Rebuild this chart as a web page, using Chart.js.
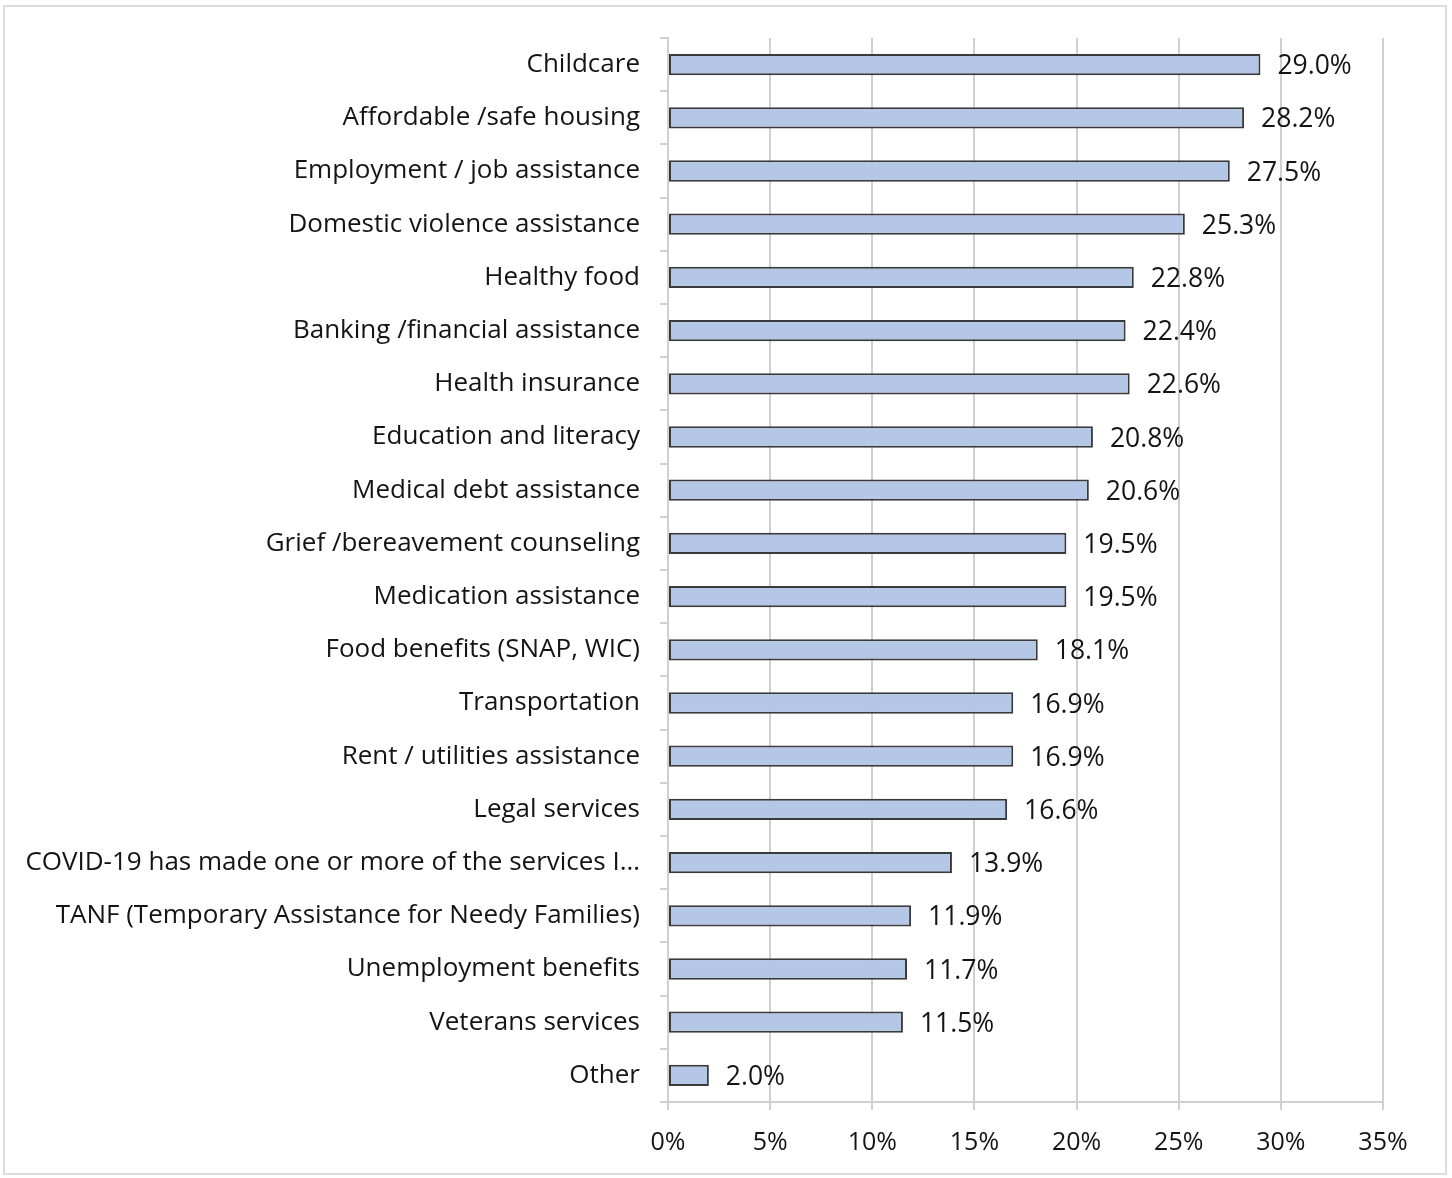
<!DOCTYPE html>
<html>
<head>
<meta charset="utf-8">
<script src="https://cdn.jsdelivr.net/npm/chart.js@4.4.1/dist/chart.umd.min.js"></script>
<style>
  html, body { margin: 0; padding: 0; background: #fff; }
  #wrap { position: relative; width: 1452px; height: 1178px; }
  #frame {
    position: absolute; left: 3px; top: 5px; width: 1440px; height: 1166px;
    border: 2px solid #dcdcdc; pointer-events: none;
  }
  canvas { position: absolute; left: 0; top: 0; }
</style>
</head>
<body>
<div id="wrap">
  <canvas id="needsChart" width="1452" height="1178"></canvas>
  <div id="frame"></div>
</div>
<script>
// Services needed, share of respondents (%)
const services = [
  'Childcare',
  'Affordable /safe housing',
  'Employment / job assistance',
  'Domestic violence assistance',
  'Healthy food',
  'Banking /financial assistance',
  'Health insurance',
  'Education and literacy',
  'Medical debt assistance',
  'Grief /bereavement counseling',
  'Medication assistance',
  'Food benefits (SNAP, WIC)',
  'Transportation',
  'Rent / utilities assistance',
  'Legal services',
  'COVID-19 has made one or more of the services I\u2026',
  'TANF (Temporary Assistance for Needy Families)',
  'Unemployment benefits',
  'Veterans services',
  'Other'
];
const shares = [29.0, 28.2, 27.5, 25.3, 22.8, 22.4, 22.6, 20.8, 20.6, 19.5,
                19.5, 18.1, 16.9, 16.9, 16.6, 13.9, 11.9, 11.7, 11.5, 2.0];
const xTicks = [0, 5, 10, 15, 20, 25, 30, 35];

const FONT = "'Open Sans', sans-serif";
const TEXT = '#141414';

// value labels to the right of each bar
const barLabels = {
  id: 'barLabels',
  afterDatasetsDraw(chart) {
    const ctx = chart.ctx;
    const meta = chart.getDatasetMeta(0);
    ctx.save();
    ctx.font = '26.5px ' + FONT;
    ctx.fillStyle = TEXT;
    ctx.textAlign = 'left';
    ctx.textBaseline = 'middle';
    meta.data.forEach((bar, i) => {
      ctx.fillText(shares[i].toFixed(1) + '%', bar.x + 17, bar.y + 2);
    });
    ctx.restore();
  }
};

const ctx = document.getElementById('needsChart').getContext('2d');
new Chart(ctx, {
  type: 'bar',
  data: {
    labels: services,
    datasets: [{
      data: shares,
      backgroundColor: '#b4c7e7',
      borderColor: '#3a3a3a',
      borderWidth: 2,
      borderSkipped: false,
      barPercentage: 0.4,
      categoryPercentage: 1
    }]
  },
  options: {
    indexAxis: 'y',
    responsive: false,
    animation: false,
    layout: { padding: { top: 38, right: 69, bottom: 0, left: 0 } },
    plugins: {
      legend: { display: false },
      tooltip: { enabled: false }
    },
    scales: {
      x: {
        min: 0,
        max: 35,
        afterBuildTicks(scale) {
          scale.ticks = xTicks.map(v => ({ value: v }));
        },
        afterFit(scale) { scale.height = 76; },
        grid: {
          color: '#d0d0d0',
          lineWidth: 2,
          tickLength: 8,
          drawTicks: true
        },
        border: { color: '#d0d0d0', width: 2 },
        ticks: {
          padding: 18,
          color: TEXT,
          font: { family: FONT, size: 25 },
          callback: v => v + '%'
        }
      },
      y: {
        afterFit(scale) { scale.width = 668; },
        grid: {
          drawOnChartArea: false,
          color: '#d0d0d0',
          lineWidth: 2,
          tickLength: 8
        },
        border: { color: '#d0d0d0', width: 2 },
        ticks: {
          padding: 20,
          color: TEXT,
          autoSkip: false,
          font: { family: FONT, size: 26 }
        }
      }
    }
  },
  plugins: [barLabels]
});
</script>
</body>
</html>
